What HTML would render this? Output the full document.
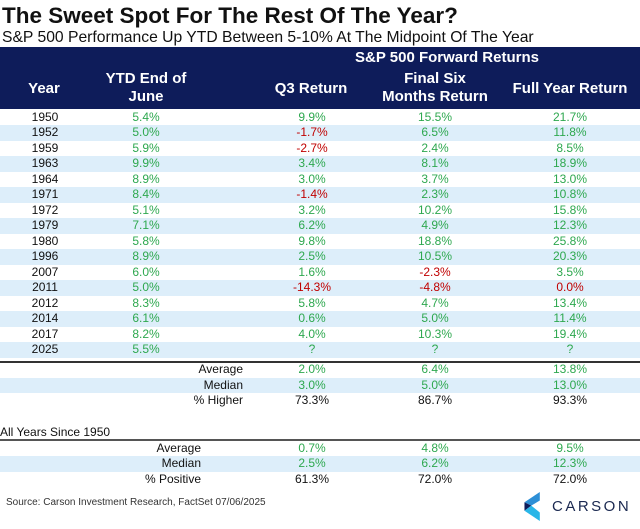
<!DOCTYPE html>
<html><head><meta charset="utf-8"><style>
body{margin:0;width:640px;height:529px;background:#fff;font-family:"Liberation Sans",Arial,sans-serif;position:relative;overflow:hidden}
.a{position:absolute;white-space:nowrap}
.c{transform:translateX(-50%)}
.g{color:#2ea84f}.n{color:#c00000}.k{color:#111}
.row{position:absolute;left:0;width:640px;height:15.5px}
.cell{position:absolute;top:0;line-height:15.5px;font-size:12px;transform:translateX(-50%)}
.hd{color:#fff;font-weight:bold;font-size:15px;text-align:center;line-height:18px}
</style></head><body>
<div class="a" style="left:2px;top:3px;font-size:22.5px;font-weight:bold;color:#111">The Sweet Spot For The Rest Of The Year?</div>
<div class="a" style="left:2px;top:29px;font-size:15.7px;color:#111">S&amp;P 500 Performance Up YTD Between 5-10% At The Midpoint Of The Year</div>
<div class="a" style="left:0;top:47px;width:640px;height:62px;background:#0e1c5a"></div>
<div class="a hd c" style="left:447px;top:49px">S&amp;P 500 Forward Returns</div>
<div class="a hd c" style="left:44px;top:80px">Year</div>
<div class="a hd c" style="left:146px;top:70px">YTD End of<br>June</div>
<div class="a hd c" style="left:311px;top:80px">Q3 Return</div>
<div class="a hd c" style="left:435px;top:70px">Final Six<br>Months Return</div>
<div class="a hd c" style="left:570px;top:80px">Full Year Return</div>
<div id="rows"></div>
<div class="a" style="left:0;top:361px;width:640px;height:2px;background:#333"></div>
<div class="a" style="left:0;top:425px;font-size:12px;color:#111">All Years Since 1950</div>
<div class="a" style="left:0;top:439px;width:640px;height:1.5px;background:#555"></div>
<div class="a" style="left:6px;top:497px;font-size:10px;color:#333">Source: Carson Investment Research, FactSet 07/06/2025</div>
<svg class="a" style="left:524px;top:492px" width="18" height="29" viewBox="0 0 20 34"><polygon points="0,12 18,0 18,10 8,16" fill="#2d8fd6"/><polygon points="0,12 8,16 0,22" fill="#0e1c5a"/><polygon points="0,22 8,16 18,24 18,34" fill="#29b6e8"/></svg>
<div class="a" style="left:552px;top:498px;font-size:15px;letter-spacing:2.5px;color:#1a2850">CARSON</div>
<script>
const years=["1950","1952","1959","1963","1964","1971","1972","1979","1980","1996","2007","2011","2012","2014","2017","2025"];
const ytd=["5.4%","5.0%","5.9%","9.9%","8.9%","8.4%","5.1%","7.1%","5.8%","8.9%","6.0%","5.0%","8.3%","6.1%","8.2%","5.5%"];
const q3=["9.9%","-1.7%","-2.7%","3.4%","3.0%","-1.4%","3.2%","6.2%","9.8%","2.5%","1.6%","-14.3%","5.8%","0.6%","4.0%","?"];
const six=["15.5%","6.5%","2.4%","8.1%","3.7%","2.3%","10.2%","4.9%","18.8%","10.5%","-2.3%","-4.8%","4.7%","5.0%","10.3%","?"];
const full=["21.7%","11.8%","8.5%","18.9%","13.0%","10.8%","15.8%","12.3%","25.8%","20.3%","3.5%","0.0%","13.4%","11.4%","19.4%","?"];
const statLabels=["Average","Median","% Higher"];
const statQ3=["2.0%","3.0%","73.3%"],statSix=["6.4%","5.0%","86.7%"],statFull=["13.8%","13.0%","93.3%"];
const allLabels=["Average","Median","% Positive"];
const allQ3=["0.7%","2.5%","61.3%"],allSix=["4.8%","6.2%","72.0%"],allFull=["9.5%","12.3%","72.0%"];
const host=document.getElementById('rows');
function cls(v,dark){if(dark)return 'k';if(v==='0.0%')return 'n';return v.startsWith('-')?'n':'g';}
function addRow(top,shade,name){const r=document.createElement('div');r.className='row';r.style.top=top+'px';if(shade)r.style.background='#ddeefa';


host.appendChild(r);return r;}
function addCell(r,x,txt,c,name,right){const s=document.createElement('div');s.className='cell '+c;s.style.left=x+'px';if(right)s.style.transform='translateX(-100%)';s.textContent=txt;


r.appendChild(s);}
years.forEach((y,i)=>{const r=addRow(109.5+i*15.5,i%2===1,'row-'+y);
addCell(r,45,y,'k','year-cell');addCell(r,146,ytd[i],'g','ytd-cell');
addCell(r,312,q3[i],cls(q3[i]),'q3-cell');addCell(r,435,six[i],cls(six[i]),'six-month-cell');addCell(r,570,full[i],cls(full[i]),'full-year-cell');});
statLabels.forEach((l,i)=>{const r=addRow(362+i*15.7,i===1,'stat-row-'+i);const d=i===2;
addCell(r,243,l,'k','stat-label',true);addCell(r,312,statQ3[i],d?'k':'g','stat-q3');addCell(r,435,statSix[i],d?'k':'g','stat-six');addCell(r,570,statFull[i],d?'k':'g','stat-full');});
allLabels.forEach((l,i)=>{const r=addRow(440.5+i*15.7,i===1,'all-years-row-'+i);const d=i===2;
addCell(r,201,l,'k','all-label',true);addCell(r,312,allQ3[i],d?'k':'g','all-q3');addCell(r,435,allSix[i],d?'k':'g','all-six');addCell(r,570,allFull[i],d?'k':'g','all-full');});
</script>
</body></html>
